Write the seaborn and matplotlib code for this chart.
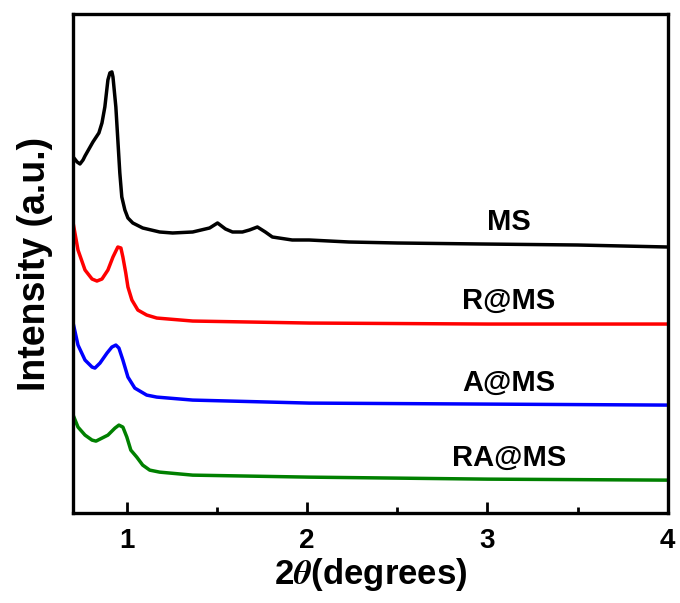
import matplotlib
matplotlib.use("Agg")
import matplotlib.pyplot as plt
import seaborn as sns
import pandas as pd
from matplotlib.ticker import MultipleLocator

# ---- data (2theta in degrees, intensity in a.u., already offset) ----
ms_x = [0.702, 0.724, 0.740, 0.757, 0.768, 0.790, 0.812, 0.845, 0.862, 0.878, 0.895, 0.906,
        0.917, 0.923, 0.939, 0.950, 0.961, 0.972, 0.989, 1.006, 1.033, 1.088, 1.182, 1.254,
        1.365, 1.459, 1.503, 1.547, 1.586, 1.641, 1.680, 1.724, 1.768, 1.807, 1.917, 2.011,
        2.232, 2.5, 2.967, 3.5, 4.0]
ms_y = [356, 351, 349, 353, 357, 364, 371, 380, 390, 406, 433, 440,
        441, 436, 406, 373, 340, 316, 303, 295, 290, 285, 281, 280,
        281, 285, 290, 284, 281, 281, 283, 286, 281, 276, 273, 273,
        271, 270, 269, 268, 266]

r_x = [0.702, 0.729, 0.768, 0.807, 0.834, 0.862, 0.895, 0.923, 0.950, 0.967, 0.978, 0.994,
       1.006, 1.028, 1.061, 1.110, 1.166, 1.365, 2.011, 3.0, 4.0]
r_y = [290, 263, 243, 234, 232, 234, 243, 256, 266, 265, 256, 240,
       226, 213, 203, 198, 195, 192, 190, 189, 189]

a_x = [0.702, 0.729, 0.768, 0.807, 0.823, 0.851, 0.890, 0.917, 0.939, 0.956, 0.978, 1.006,
       1.044, 1.110, 1.166, 1.365, 2.011, 3.0, 4.0]
a_y = [190, 168, 153, 146, 145, 150, 160, 166, 168, 165, 153, 136,
       125, 118, 116, 113, 110, 109, 108]

ra_x = [0.702, 0.729, 0.768, 0.807, 0.829, 0.862, 0.895, 0.934, 0.956, 0.978, 1.0, 1.022,
        1.055, 1.088, 1.127, 1.182, 1.365, 2.011, 3.0, 4.0]
ra_y = [98, 86, 78, 73, 72, 75, 78, 85, 88, 86, 76, 63,
        56, 48, 43, 41, 38, 36, 34, 33]

names = ["MS", "R@MS", "A@MS", "RA@MS"]
colors = ["black", "red", "blue", "green"]
label_y = [291, 212, 130, 55]

# ---- style ----
sns.set_style("ticks", {"axes.edgecolor": "black", "xtick.color": "black",
                        "text.color": "black", "axes.labelcolor": "black"})
plt.rcParams["font.family"] = ["Liberation Sans", "DejaVu Sans"]
plt.rcParams["font.weight"] = "bold"
plt.rcParams["mathtext.fontset"] = "stix"

fig, ax = plt.subplots(figsize=(6.8, 6.03), dpi=100)
fig.subplots_adjust(left=0.107, right=0.982, bottom=0.149, top=0.977)

curves = [(ms_x, ms_y), (r_x, r_y), (a_x, a_y), (ra_x, ra_y)]
for (xs, ys), name, c, ly in zip(curves, names, colors, label_y):
    df = pd.DataFrame({"two_theta": xs, "intensity": ys})
    sns.lineplot(data=df, x="two_theta", y="intensity", sort=False, color=c,
                 linewidth=2.5, solid_joinstyle="round", solid_capstyle="round", ax=ax)
    ax.text(3.12, ly, name, ha="center", va="center", fontsize=21,
            fontweight="bold", color="black")

ax.set_xlim(0.7, 4.0)
ax.set_ylim(0, 499)
ax.set_yticks([])
ax.xaxis.set_major_locator(MultipleLocator(1))
ax.xaxis.set_minor_locator(MultipleLocator(0.5))
ax.tick_params(axis="x", which="major", direction="in", length=8, width=2,
               labelsize=20, pad=11, colors="black")
ax.tick_params(axis="x", which="minor", direction="in", length=4, width=2, colors="black")
for s in ax.spines.values():
    s.set_linewidth(2.4)
    s.set_color("black")

ax.set_xlabel(r"2$\theta$(degrees)", fontsize=25, fontweight="bold", labelpad=1)
ax.set_ylabel("Intensity (a.u.)", fontsize=27, fontweight="bold", labelpad=14)

fig.savefig("out.png", dpi=100)
